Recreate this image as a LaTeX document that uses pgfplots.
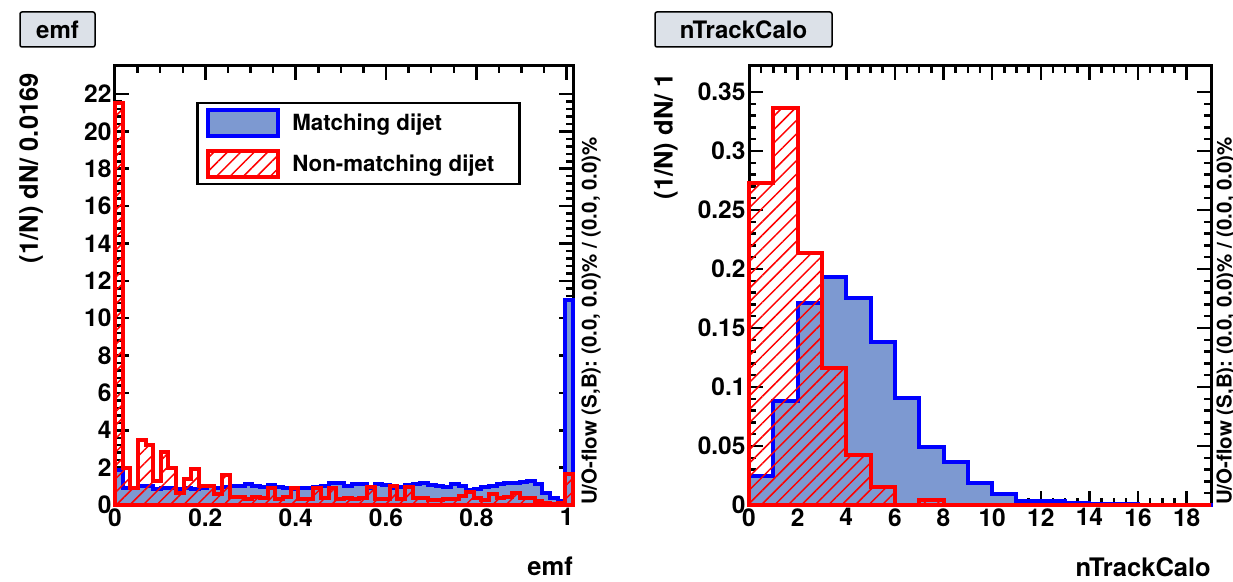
\documentclass[border=0pt]{standalone}
\usepackage{pgfplots}
\pgfplotsset{compat=1.18}
\usepackage{pgfplotstable}
\usepackage{fontspec}
\setmainfont{TeX Gyre Heros}
\usetikzlibrary{patterns.meta}
\definecolor{sigfill}{HTML}{7D99D1}
\definecolor{titlefill}{HTML}{DCE1E8}

\pgfplotstableread{
x sig bkg
0 1.9 21.5
0.0169 0.9 2.0
0.0338 0.9 0.9
0.0507 1.0 3.5
0.0676 1.0 3.2
0.0845 0.85 1.3
0.1014 0.9 2.85
0.1183 0.9 2.0
0.1352 0.85 0.65
0.1521 0.9 1.4
0.169 0.85 1.95
0.1859 0.9 1.0
0.2028 1.0 1.0
0.2197 0.9 0.6
0.2366 0.95 1.6
0.2535 1.0 0.45
0.2704 1.0 0.45
0.2873 1.15 0.3
0.3042 1.0 0.45
0.3211 0.95 0.35
0.338 1.05 0.9
0.3549 0.95 0.3
0.3718 0.9 0.45
0.3887 0.85 0.9
0.4056 0.9 0.3
0.4225 0.9 0.3
0.4394 0.95 0.9
0.4563 1.0 0.35
0.4732 1.2 0.9
0.4901 1.2 0.3
0.507 1.0 0.4
0.5239 1.1 0.3
0.5408 1.1 0.4
0.5577 0.9 0.95
0.5746 1.1 0.3
0.5915 1.05 0.3
0.6084 0.9 1.0
0.6253 0.95 0.3
0.6422 1.05 0.95
0.6591 1.1 0.4
0.676 1.2 0.35
0.6929 1.05 0.25
0.7098 1.0 0.25
0.7267 0.95 0.3
0.7436 1.1 0.3
0.7605 1.0 0.5
0.7774 0.8 0.7
0.7943 0.85 0.35
0.8112 0.95 0.25
0.8281 1.0 0.6
0.845 1.15 0.4
0.8619 1.2 0.45
0.8788 1.2 0.65
0.8957 1.25 0.35
0.9126 1.3 0.4
0.9295 1.1 0.2
0.9464 0.65 0.1
0.9633 0.35 0.05
0.9802 0.2 0.1
0.9971 11.0 1.65
1.014 11.0 1.65
}\emfdata

\pgfplotstableread{
x sig bkg
0 0.0245 0.2726
1 0.0885 0.3367
2 0.1714 0.2136
3 0.193 0.116
4 0.175 0.0422
5 0.1377 0.0155
6 0.0908 0.0
7 0.0492 0.0045
8 0.0365 0
9 0.0183 0
10 0.009 0
11 0.0034 0
12 0.0034 0
13 0.0014 0
14 0.0008 0
15 0.0005 0
16 0.0004 0
17 0.0002 0
18 0.0002 0
19 0.0002 0
}\ntrkdata

\pgfplotsset{
  rootstyle/.style={
    scale only axis, clip=false,
    axis line style={line width=3pt},
    every tick/.style={black, line width=2.5pt},
    major tick length=14pt, minor tick length=7pt,
    tick align=inside, tick pos=both,
    tick label style={font=\fontsize{24.5}{24.5}\selectfont\bfseries},
    label style={font=\fontsize{25.5}{25.5}\selectfont\bfseries},
    /pgf/number format/assume math mode=true,
    xlabel style={at={(axis description cs:1,0)}, anchor=north east, inner sep=0pt, yshift=-52pt},
  },
  sigstyle/.style={const plot, draw=blue, fill=sigfill, line width=4pt},
  bkgstyle/.style={const plot, draw=red, line width=4pt,
    pattern={Lines[angle=45, distance=9.5pt, line width=1.5pt]}, pattern color=red},
}

\begin{document}
\begin{tikzpicture}
\path[use as bounding box] (0,0) rectangle (1233pt,581pt);

\begin{axis}[rootstyle,
  at={(115pt,76pt)}, anchor=south west,
  width=458pt, height=439pt,
  xmin=0, xmax=1.014, ymin=0, ymax=23.5,
  xtick={0,0.2,0.4,0.6,0.8,1},
  xticklabels={0,0.2,0.4,0.6,0.8,1},
  ytick={0,2,4,6,8,10,12,14,16,18,20,22},
  minor x tick num=3, minor y tick num=4,
  xlabel={emf},
  ylabel={(1/N) dN/ 0.0169},
  ylabel style={at={(axis description cs:-0.157,0.984)}, anchor=south east, inner sep=0pt},
  legend style={at={(0.177,0.918)}, anchor=north west, draw=black, line width=2.5pt,
    fill=white, font=\fontsize{22.3}{22.3}\selectfont\bfseries,
    inner xsep=9pt, inner ysep=5pt, row sep=11pt, cells={anchor=west}},
  legend image code/.code={\draw[#1, line width=4pt] (0pt,-13pt) rectangle (70pt,13pt); \path (80pt,0pt);},
]
\addplot[sigstyle] table[x=x,y=sig]{\emfdata} \closedcycle;
\addlegendentry{Matching dijet}
\addplot[bkgstyle] table[x=x,y=bkg]{\emfdata} \closedcycle;
\addlegendentry{Non-matching dijet\hspace*{14pt}}
\end{axis}

\begin{axis}[rootstyle,
  at={(749pt,76pt)}, anchor=south west,
  width=462pt, height=439pt,
  xmin=0, xmax=19, ymin=0, ymax=0.372,
  xtick={0,2,4,6,8,10,12,14,16,18},
  ytick={0,0.05,0.1,0.15,0.2,0.25,0.3,0.35},
  yticklabels={0,0.05,0.1,0.15,0.2,0.25,0.3,0.35},
  minor x tick num=3, minor y tick num=4,
  xlabel={nTrackCalo},
  ylabel={(1/N) dN/ 1},
  ylabel style={at={(axis description cs:-0.154,0.984)}, anchor=south east, inner sep=0pt},
]
\addplot[sigstyle] table[x=x,y=sig]{\ntrkdata} \closedcycle;
\addplot[bkgstyle] table[x=x,y=bkg]{\ntrkdata} \closedcycle;
\end{axis}

\node[draw=black, line width=1.5pt, fill=titlefill, rounded corners=2pt,
  minimum width=75pt, minimum height=35pt, inner sep=0pt,
  font=\fontsize{24}{24}\selectfont\bfseries] at (57.5pt,551.5pt) {emf};
\node[draw=black, line width=1.5pt, fill=titlefill, rounded corners=2pt,
  minimum width=177pt, minimum height=35pt, inner sep=0pt,
  font=\fontsize{24}{24}\selectfont\bfseries] at (743.5pt,551.5pt) {nTrackCalo};

\node[rotate=90, anchor=west, inner sep=0pt, font=\fontsize{20.5}{20.5}\selectfont\bfseries]
  at (591pt,76pt) {U/O-flow (S,B): (0.0, 0.0)\% / (0.0, 0.0)\%};
\node[rotate=90, anchor=west, inner sep=0pt, font=\fontsize{20.5}{20.5}\selectfont\bfseries]
  at (1226pt,76pt) {U/O-flow (S,B): (0.0, 0.0)\% / (0.0, 0.0)\%};
\end{tikzpicture}
\end{document}
